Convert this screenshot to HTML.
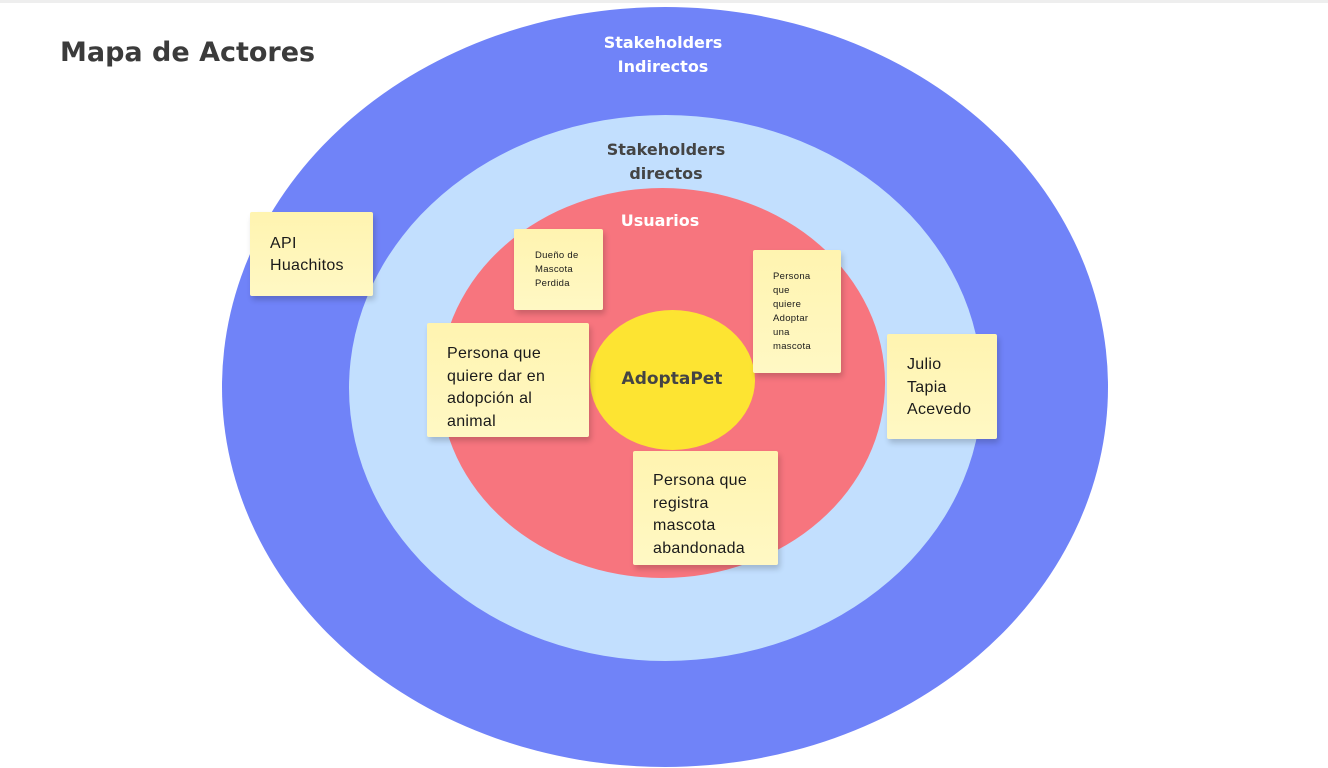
<!DOCTYPE html>
<html><head><meta charset="utf-8"><style>
*{margin:0;padding:0;box-sizing:border-box}
body{width:1328px;height:768px;overflow:hidden;background:#fff;position:relative;font-family:"Liberation Sans",sans-serif}
.e{position:absolute;border-radius:50%}
.t{position:absolute;font-weight:bold;text-align:center;white-space:nowrap;font-family:"DejaVu Sans",sans-serif}
.n{position:absolute;background:linear-gradient(#fff4b0,#fff8c4);box-shadow:2px 4px 6px rgba(0,0,0,.18);border-radius:2px;color:#1a1a1a}
.n div{position:absolute;white-space:nowrap;letter-spacing:0.3px}
</style></head><body>
<div style="position:absolute;left:0;top:0;width:1328px;height:3px;background:#eee"></div>
<div class="e" style="left:222px;top:7px;width:886px;height:760px;background:#7083f8"></div>
<div class="e" style="left:349px;top:115px;width:633px;height:546px;background:#c2dffe"></div>
<div class="e" style="left:440px;top:188px;width:445px;height:390px;background:#f7757e"></div>
<div class="e" style="left:590px;top:310px;width:165px;height:140px;background:#fde432"></div>
<div class="t" style="left:60px;top:37px;font-size:27px;color:#3b3b3b;text-align:left">Mapa de Actores</div>
<div class="t" style="left:563px;top:31px;width:200px;font-size:16px;line-height:24px;color:#fff">Stakeholders<br>Indirectos</div>
<div class="t" style="left:566px;top:138px;width:200px;font-size:16px;line-height:24px;color:#444">Stakeholders<br>directos</div>
<div class="t" style="left:560px;top:211px;width:200px;font-size:16px;color:#fff">Usuarios</div>
<div class="t" style="left:572px;top:369px;width:200px;font-size:17px;color:#444">AdoptaPet</div>
<div class="n" style="left:250px;top:212px;width:123px;height:84px"><div style="left:20px;top:21px;font-size:16px;line-height:22px">API<br>Huachitos</div></div>
<div class="n" style="left:514px;top:229px;width:89px;height:81px"><div style="left:21px;top:20px;font-size:9.5px;line-height:14px">Dueño de<br>Mascota<br>Perdida</div></div>
<div class="n" style="left:753px;top:250px;width:88px;height:123px"><div style="left:20px;top:20px;font-size:9.5px;line-height:14px">Persona<br>que<br>quiere<br>Adoptar<br>una<br>mascota</div></div>
<div class="n" style="left:427px;top:323px;width:162px;height:114px"><div style="left:20px;top:20px;font-size:16px;line-height:22.5px">Persona que<br>quiere dar en<br>adopción al<br>animal</div></div>
<div class="n" style="left:887px;top:334px;width:110px;height:105px"><div style="left:20px;top:20px;font-size:16px;line-height:22.5px">Julio<br>Tapia<br>Acevedo</div></div>
<div class="n" style="left:633px;top:451px;width:145px;height:114px"><div style="left:20px;top:19px;font-size:16px;line-height:22.5px">Persona que<br>registra<br>mascota<br>abandonada</div></div>
</body></html>
